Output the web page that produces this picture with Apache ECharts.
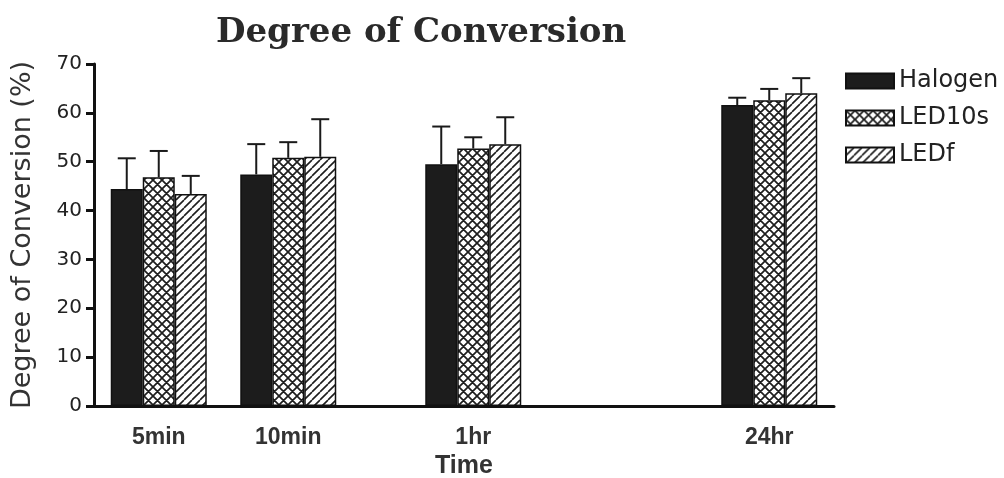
<!DOCTYPE html>
<html>
<head>
<meta charset="utf-8">
<script src="https://cdn.jsdelivr.net/npm/echarts@6/dist/echarts.min.js"></script>
<style>
  html, body { margin: 0; padding: 0; background: #fff; }
  #chart { width: 1004px; height: 478px; }
</style>
</head>
<body>
<div id="chart"></div>
<script>
// Degree of conversion (%) after curing, mean and upper SD per light source
const timeLabels = ['5min', '10min', '1hr', '24hr'];
const halogen    = [44.4, 47.4, 49.5, 61.6];
const halogenSD  = [6.3, 6.2, 7.7, 1.5];
const led10s     = [46.8, 50.8, 52.7, 62.6];
const led10sSD   = [5.4, 3.2, 2.3, 2.3];
const ledf       = [43.4, 51.0, 53.6, 64.0];
const ledfSD     = [3.7, 7.7, 5.5, 3.1];
const seriesNames = ['Halogen', 'LED10s', 'LEDf'];

// the time axis is not evenly spaced: each time point sits in a slot of a finer category grid
const SLOT_COUNT = 40;
const SLOTS = [3, 10, 20, 36];

const categories = new Array(SLOT_COUNT).fill('');
SLOTS.forEach((s, i) => { categories[s] = timeLabels[i]; });

function spread(values) {
  const out = new Array(SLOT_COUNT).fill(null);
  SLOTS.forEach((s, i) => { out[s] = values[i]; });
  return out;
}

// hatch fills for the bars
function hatch(kind) {
  const p = kind === 'cross' ? 9 : 8;
  const c = document.createElement('canvas');
  c.width = p; c.height = p;
  const g = c.getContext('2d');
  g.fillStyle = '#fff';
  g.fillRect(0, 0, p, p);
  g.strokeStyle = '#1e1e1e';
  g.lineWidth = kind === 'cross' ? 1.7 : 1.6;
  g.beginPath();
  for (let k = -1; k <= 1; k++) {
    g.moveTo(k * p, p); g.lineTo(k * p + p, 0);
    if (kind === 'cross') { g.moveTo(k * p, 0); g.lineTo(k * p + p, p); }
  }
  g.stroke();
  return c;
}

const BAR_W = 32;
const fills = [
  '#1c1c1c',
  { image: hatch('cross'), repeat: 'repeat' },
  { image: hatch('diag'), repeat: 'repeat' }
];

function errorBars(offset) {
  return function (params, api) {
    const slot = api.value(0);
    const base = api.coord([slot, api.value(1)]);
    const top = api.coord([slot, api.value(2)]);
    const x = top[0] + offset;
    const style = { stroke: '#1a1a1a', lineWidth: 2 };
    return {
      type: 'group',
      children: [
        { type: 'line', shape: { x1: x, y1: base[1], x2: x, y2: top[1] }, style: style },
        { type: 'line', shape: { x1: x - 9, y1: top[1], x2: x + 9, y2: top[1] }, style: style }
      ]
    };
  };
}

const means = [halogen, led10s, ledf];
const sds = [halogenSD, led10sSD, ledfSD];

const series = [];
means.forEach((m, k) => {
  series.push({
    name: seriesNames[k],
    type: 'bar',
    data: spread(m),
    barWidth: BAR_W,
    barGap: 0,
    itemStyle: { color: fills[k], borderColor: '#111', borderWidth: 1.5 },
    emphasis: { disabled: true },
    z: 2
  });
});
means.forEach((m, k) => {
  series.push({
    name: seriesNames[k] + ' SD',
    type: 'custom',
    renderItem: errorBars((k - 1) * BAR_W),
    encode: { x: 0, y: [1, 2] },
    data: SLOTS.map((s, i) => [s, m[i], m[i] + sds[k][i]]),
    z: 3
  });
});

const chart = echarts.init(document.getElementById('chart'), null, { renderer: 'canvas' });
chart.setOption({
  backgroundColor: '#fff',
  animation: false,
  title: {
    text: 'Degree of Conversion',
    left: 216,
    top: 16,
    padding: 0,
    textStyle: { fontFamily: 'DejaVu Serif', fontWeight: 'bold', fontSize: 34, color: '#2a2a2a' }
  },
  legend: {
    data: seriesNames,
    orient: 'vertical',
    left: 845,
    top: 69,
    padding: 0,
    itemWidth: 48,
    itemHeight: 15,
    itemGap: 13,
    icon: 'rect',
    selectedMode: false,
    textStyle: { fontFamily: 'DejaVu Sans', fontSize: 24, color: '#222' }
  },
  grid: { left: 94, right: 170, top: 64, bottom: 72, outerBoundsMode: 'none' },
  xAxis: {
    type: 'category',
    data: categories,
    boundaryGap: true,
    name: 'Time',
    nameLocation: 'middle',
    nameGap: 48,
    nameTextStyle: { fontFamily: 'Liberation Sans', fontWeight: 'bold', fontSize: 25, color: '#333' },
    axisLine: { lineStyle: { color: '#111', width: 3 } },
    axisTick: { alignWithLabel: true, interval: (i, v) => v !== '', length: 8, lineStyle: { color: '#111', width: 3 } },
    axisLabel: { interval: (i, v) => v !== '', margin: 20, fontFamily: 'Liberation Sans', fontWeight: 'bold', fontSize: 23, color: '#333' },
    splitLine: { show: false }
  },
  yAxis: {
    type: 'value',
    min: 0,
    max: 70,
    interval: 10,
    name: 'Degree of Conversion (%)',
    nameLocation: 'middle',
    nameGap: 58,
    nameTextStyle: { fontFamily: 'DejaVu Sans', fontSize: 27, color: '#333' },
    axisLine: { show: true, lineStyle: { color: '#111', width: 3 } },
    axisTick: { show: true, length: 8, lineStyle: { color: '#111', width: 3 } },
    axisLabel: { margin: 12, fontFamily: 'DejaVu Sans', fontSize: 20, color: '#222' },
    splitLine: { show: false }
  },
  series: series
});
</script>
</body>
</html>
